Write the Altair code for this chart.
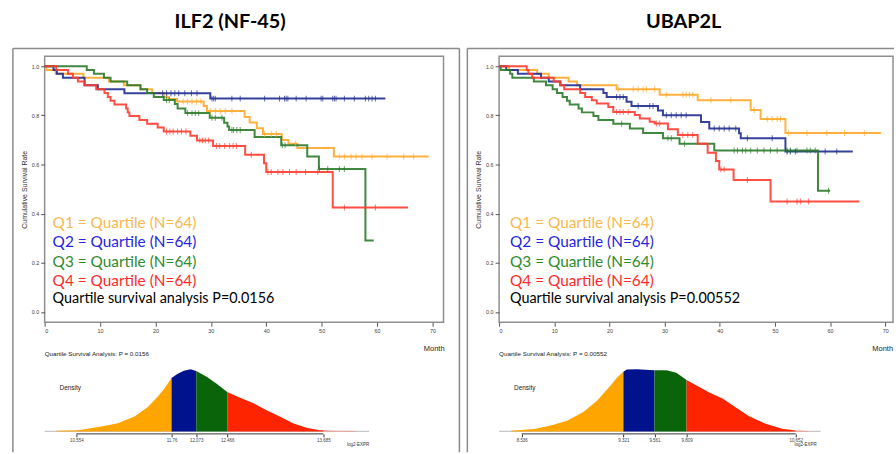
import altair as alt
import pandas as pd

GROUPS = ["Q1", "Q2", "Q3", "Q4"]
LEGEND_LABELS = ["Q1 = Quartile (N=64)", "Q2 = Quartile (N=64)",
                 "Q3 = Quartile (N=64)", "Q4 = Quartile (N=64)"]
SEGS = ["S1", "S2", "S3", "S4", "S5"]
KM_TICKS = [0, 10, 20, 30, 40, 50, 60, 70]
SURV_TICKS = [0.0, 0.2, 0.4, 0.6, 0.8, 1.0]

# ---------------- ILF2 (NF-45) : Kaplan-Meier steps (month, survival) ----------------
ilf2_q1_t = [0, 0.3, 2.0, 7.0, 11.6, 14.3, 17.3, 19.4, 21.5, 22.4, 23.9, 28.7, 29.3, 36.1, 37.0, 38.3, 39.4, 42.8, 44.0, 45.6, 52.2]
ilf2_q1_s = [1.0, 0.984, 0.969, 0.953, 0.938, 0.922, 0.906, 0.891, 0.875, 0.866, 0.856, 0.838, 0.818, 0.793, 0.771, 0.747, 0.724, 0.700, 0.684, 0.667, 0.632]
ilf2_q1_end = 69.3
ilf2_q1_cens = [22.1, 25.0, 25.8, 26.6, 27.4, 28.2, 29.9, 30.8, 31.7, 32.6, 33.8, 39.7, 40.9, 41.8, 45.3, 53.2, 54.1, 55.3, 56.2, 57.3, 59.1, 61.8, 64.8, 66.6]

ilf2_q2_t = [0, 1.6, 2.2, 3.3, 7.2, 9.6, 14.4, 29.9]
ilf2_q2_s = [1.0, 0.984, 0.969, 0.953, 0.922, 0.906, 0.890, 0.868]
ilf2_q2_end = 61.5
ilf2_q2_cens = [21.3, 22.0, 22.8, 23.5, 24.2, 25.3, 26.5, 27.5, 30.2, 30.5, 30.8, 33.8, 35.3, 39.7, 42.4, 43.3, 43.6, 43.9, 45.4, 47.2, 49.9, 50.2, 52.0, 52.3, 52.6, 54.1, 55.9, 57.9, 58.5, 59.1, 59.7]

ilf2_q3_t = [0, 7.6, 8.9, 10.7, 11.9, 14.9, 17.3, 18.5, 19.7, 21.5, 23.5, 24.0, 25.4, 29.8, 32.4, 33.0, 33.3, 37.9, 42.7, 47.4, 49.5, 57.9]
ilf2_q3_s = [1.0, 0.984, 0.969, 0.953, 0.938, 0.922, 0.906, 0.891, 0.875, 0.862, 0.846, 0.828, 0.809, 0.790, 0.770, 0.755, 0.740, 0.712, 0.678, 0.632, 0.582, 0.291]
ilf2_q3_end = 59.4
ilf2_q3_cens = [22.0, 22.5, 25.8, 26.6, 27.2, 27.8, 30.2, 30.8, 32.0, 33.8, 34.1, 34.7, 35.3, 42.9, 43.4, 49.6, 51.1, 53.2, 54.1]

ilf2_q4_t = [0, 2.1, 4.2, 5.1, 6.0, 7.2, 9.3, 10.8, 11.4, 11.9, 12.6, 14.7, 15.0, 15.3, 17.1, 18.5, 20.4, 21.5, 26.3, 27.5, 30.4, 36.2, 39.6, 40.0, 52.0]
ilf2_q4_s = [1.0, 0.984, 0.969, 0.953, 0.938, 0.922, 0.906, 0.891, 0.875, 0.859, 0.844, 0.828, 0.812, 0.797, 0.781, 0.766, 0.750, 0.734, 0.717, 0.698, 0.675, 0.640, 0.605, 0.569, 0.425]
ilf2_q4_end = 65.6
ilf2_q4_cens = [22.0, 22.6, 23.2, 24.0, 24.7, 25.5, 28.0, 28.5, 29.0, 29.6, 31.0, 31.6, 32.5, 33.4, 34.0, 34.6, 37.3, 40.3, 40.9, 42.1, 43.0, 44.2, 45.4, 47.1, 49.3, 54.1, 59.7]

# ILF2 density of log2 expression
ilf2_dens_x = [10.30, 10.575, 10.87, 11.08, 11.29, 11.46, 11.58, 11.665, 11.76, 11.833, 11.916, 12.0, 12.073, 12.21, 12.336, 12.466, 12.63, 12.80, 12.965, 13.133, 13.30, 13.47, 13.636, 13.685, 13.80, 14.097]
ilf2_dens_y = [0.01, 0.02, 0.08, 0.13, 0.24, 0.39, 0.55, 0.68, 0.853, 0.92, 0.97, 0.995, 0.968, 0.87, 0.76, 0.632, 0.54, 0.45, 0.34, 0.24, 0.13, 0.06, 0.02, 0.018, 0.01, 0.005]
ilf2_dens_ticks = [10.554, 11.76, 12.073, 12.466, 13.685]
ilf2_dens_domain = [10.151, 14.265]

# ---------------- UBAP2L ----------------
ubap_q1_t = [0, 1.8, 6.9, 9.0, 12.6, 14.1, 21.3, 29.1, 36.0, 45.6, 47.4, 51.9]
ubap_q1_s = [1.0, 0.984, 0.969, 0.953, 0.938, 0.922, 0.906, 0.884, 0.861, 0.822, 0.785, 0.728]
ubap_q1_end = 69.2
ubap_q1_cens = [21.6, 24.3, 25.2, 26.1, 26.7, 28.2, 30.3, 33.3, 33.9, 34.5, 35.1, 38.4, 42.0, 46.2, 48.6, 49.5, 50.4, 51.0, 52.5, 55.8, 59.4, 62.6, 66.2]

ubap_q2_t = [0, 1.3, 3.4, 7.6, 9.0, 11.1, 14.7, 18.9, 19.5, 23.1, 24.0, 28.8, 29.7, 36.6, 38.1, 43.5, 43.8, 51.9]
ubap_q2_s = [1.0, 0.984, 0.969, 0.953, 0.938, 0.922, 0.906, 0.891, 0.875, 0.855, 0.838, 0.820, 0.800, 0.773, 0.746, 0.727, 0.707, 0.653]
ubap_q2_end = 64.1
ubap_q2_cens = [21.3, 21.9, 22.5, 25.2, 27.3, 27.9, 30.3, 31.2, 32.1, 33.0, 33.9, 39.0, 39.9, 40.8, 41.7, 42.9, 45.0, 49.5, 52.2, 52.8, 53.7, 59.1, 61.2]

ubap_q3_t = [0, 0.3, 2.0, 2.4, 6.3, 8.5, 9.7, 10.5, 11.5, 12.3, 12.8, 14.4, 15.0, 17.1, 18.0, 20.7, 23.7, 26.1, 29.7, 32.7, 39.0, 57.8]
ubap_q3_s = [1.0, 0.984, 0.969, 0.953, 0.938, 0.922, 0.906, 0.891, 0.875, 0.859, 0.844, 0.828, 0.812, 0.797, 0.781, 0.766, 0.746, 0.728, 0.707, 0.684, 0.657, 0.493]
ubap_q3_end = 60.0
ubap_q3_cens = [22.2, 30.6, 31.2, 33.6, 42.6, 43.2, 44.1, 44.7, 45.6, 46.8, 48.0, 49.2, 50.4, 52.2, 52.8, 54.0, 55.8, 56.4, 57.3, 59.7]

ubap_q4_t = [0, 5.0, 5.3, 6.0, 9.9, 11.1, 11.8, 14.7, 15.6, 16.8, 17.7, 19.8, 20.7, 24.6, 25.5, 27.3, 28.2, 30.6, 32.4, 36.0, 37.8, 39.3, 39.9, 42.5, 49.2]
ubap_q4_s = [1.0, 0.984, 0.969, 0.953, 0.938, 0.922, 0.906, 0.891, 0.875, 0.861, 0.848, 0.834, 0.814, 0.801, 0.787, 0.774, 0.767, 0.743, 0.720, 0.684, 0.648, 0.614, 0.580, 0.537, 0.449]
ubap_q4_end = 65.3
ubap_q4_cens = [21.3, 21.9, 22.5, 23.4, 28.5, 29.1, 33.3, 34.2, 35.1, 40.2, 40.8, 45.0, 52.2, 54.0, 54.6, 56.1]

ubap_dens_x = [8.453, 8.631, 8.759, 8.887, 9.014, 9.117, 9.219, 9.270, 9.321, 9.347, 9.424, 9.526, 9.561, 9.654, 9.730, 9.809, 9.883, 9.985, 10.087, 10.190, 10.292, 10.420, 10.547, 10.652, 10.752]
ubap_dens_y = [0.01, 0.04, 0.095, 0.17, 0.316, 0.49, 0.726, 0.858, 0.953, 0.99, 0.995, 0.984, 0.979, 0.979, 0.937, 0.821, 0.737, 0.621, 0.526, 0.384, 0.242, 0.121, 0.042, 0.016, 0.005]
ubap_dens_ticks = [8.536, 9.321, 9.561, 9.809, 10.652]
ubap_dens_domain = [8.361, 10.844]

# ---------------- styles ----------------
LINE_COLORS = ["#FFA82A", "#1F2C8F", "#2B7A2B", "#FF3B2F"]
TEXT_COLORS = ["#F9B850", "#2525E0", "#2E8B2E", "#FF2A2A"]
DENS_COLORS = ["#FFA500", "#00128C", "#0A640A", "#FF2400", "#FF8A80"]
BOX = "#8a8a8a"
FONT = "Liberation Sans"
BIG = "Lato"
H = 268
ONE = pd.DataFrame({"a": [0]})


def km_tables(series):
    lines, cens = [], []
    for g, (t, s, end, c) in zip(GROUPS, series):
        lines.append(pd.DataFrame({"t": [float(v) for v in t] + [float(end)], "s": s + [s[-1]], "g": g}))
        steps = pd.DataFrame({"t": [float(v) for v in t], "s": s})
        cdf = pd.DataFrame({"t": [float(v) for v in sorted(c)]})
        cdf = pd.merge_asof(cdf, steps, on="t")
        cdf["g"] = g
        cens.append(cdf)
    return pd.concat(lines, ignore_index=True), pd.concat(cens, ignore_index=True)


def dens_table(xs, ys, ticks):
    edges = [float("-inf")] + list(ticks[1:]) + [float("inf")]
    rows = []
    for i, name in enumerate(SEGS):
        for x, y in zip(xs, ys):
            if edges[i] <= x <= edges[i + 1]:
                rows.append({"x": x, "d": y, "seg": name})
    return pd.DataFrame(rows)


def text(txt, x, y, size, color, font=FONT, weight="normal", align="left"):
    return alt.Chart(ONE).mark_text(
        text=txt, fontSize=size, fill=color, font=font, fontWeight=weight,
        align=align, baseline="middle").encode(x=alt.value(x), y=alt.value(y))


def vrule(x, y1, y2):
    return alt.Chart(ONE).mark_rule(color=BOX, strokeWidth=1.5).encode(
        x=alt.value(x), y=alt.value(y1), y2=alt.value(y2))


def hrule(x1, x2, y):
    return alt.Chart(ONE).mark_rule(color=BOX, strokeWidth=1.5).encode(
        x=alt.value(x1), x2=alt.value(x2), y=alt.value(y))


def panel(title, title_x, series, dens_x, dens_y, ticks, dom, drange, pval, width, xmax,
          legend_x, box_right, month_x, expr_x, right_edge):
    line_df, cens_df = km_tables(series)
    km_x = alt.X("t:Q", scale=alt.Scale(domain=[0, xmax], nice=False, zero=False),
                 axis=alt.Axis(values=KM_TICKS, title=None, grid=False, domain=False, tickSize=4,
                               tickColor="#555", labelFontSize=5.5, labelColor="#444",
                               labelFont=FONT, labelPadding=2))
    km_y = alt.Y("s:Q", scale=alt.Scale(domain=[-0.042, 1.04], nice=False, zero=False),
                 axis=alt.Axis(values=SURV_TICKS, format=".1f", title="Cumulative Survival Rate",
                               titleFontSize=7, titleFont=FONT, titleFontWeight="normal",
                               titleColor="#333", titlePadding=4, grid=False, domain=False,
                               tickSize=4, tickColor="#555", labelFontSize=5.5,
                               labelColor="#444", labelFont=FONT))
    color = alt.Color("g:N", scale=alt.Scale(domain=GROUPS, range=LINE_COLORS), legend=None)
    lines = alt.Chart(line_df).mark_line(interpolate="step-after", strokeWidth=2, opacity=0.9).encode(
        x=km_x, y=km_y, color=color)
    cticks = alt.Chart(cens_df).mark_tick(orient="vertical", size=6, thickness=1).encode(
        x=km_x, y=km_y, color=color)

    deco = [text(title, title_x, -35, 20, "#000", font=BIG, weight="bold", align="center")]
    ys = [168, 187, 207, 226]
    for lab, col, yy in zip(LEGEND_LABELS, TEXT_COLORS, ys):
        deco.append(text(lab, legend_x, yy, 15.5, col, font=BIG))
    deco.append(text("Quartile survival analysis P=" + pval, legend_x, 245, 14.5, "#000", font=BIG))
    deco.append(text("Month", month_x, 295, 7.5, "#222", align="right"))
    deco.append(text("Quartile Survival Analysis: P = " + pval, 0, 300, 6.3, "#222"))
    deco.append(text("Density", 15, 334, 6.5, "#222"))
    deco.append(text("log2-EXPR", expr_x, 392, 4.5, "#333", align="right"))
    deco.append(vrule(-32, -8, 399))
    deco.append(hrule(-32, box_right, -8))
    if right_edge:
        deco.append(vrule(box_right, -8, 399))
    km_layer = alt.layer(lines, cticks, *deco)

    ddf = dens_table(dens_x, dens_y, ticks)
    dx = alt.X("x:Q", scale=alt.Scale(domain=dom, range=[0, drange], nice=False, zero=False),
               axis=alt.Axis(orient="bottom", offset=112.5, values=ticks, format=".3~f", title=None,
                             grid=False, domain=False, tickSize=3, tickColor="#333",
                             labelFontSize=4.5, labelColor="#444", labelPadding=1,
                             labelFont=FONT, labelOverlap=False))
    dy = alt.Y("d:Q", scale=alt.Scale(domain=[0, 1], range=[378, 315], nice=False, zero=False),
               axis=None, stack=None)
    base = alt.Chart(pd.DataFrame({"x": [dom[0]], "x2": [dom[1]]})).mark_rule(
        color="#C8C8C8", strokeWidth=1.2).encode(x=dx, x2="x2:Q", y=alt.value(378))
    area = alt.Chart(ddf).mark_area().encode(
        x=dx, y=dy,
        color=alt.Color("seg:N", scale=alt.Scale(domain=SEGS, range=DENS_COLORS), legend=None))
    frame = alt.Chart(pd.DataFrame({"x": [ticks[0]], "x2": [ticks[-1]]})).mark_rule(
        color="#333", strokeWidth=1).encode(x=dx, x2="x2:Q", y=alt.value(380.5))
    dens_layer = alt.layer(base, area, frame)

    return alt.layer(km_layer, dens_layer).resolve_scale(
        x="independent", y="independent", color="independent").properties(width=width, height=H)


left_series = [
    (ilf2_q1_t, ilf2_q1_s, ilf2_q1_end, ilf2_q1_cens),
    (ilf2_q2_t, ilf2_q2_s, ilf2_q2_end, ilf2_q2_cens),
    (ilf2_q3_t, ilf2_q3_s, ilf2_q3_end, ilf2_q3_cens),
    (ilf2_q4_t, ilf2_q4_s, ilf2_q4_end, ilf2_q4_cens),
]
right_series = [
    (ubap_q1_t, ubap_q1_s, ubap_q1_end, ubap_q1_cens),
    (ubap_q2_t, ubap_q2_s, ubap_q2_end, ubap_q2_cens),
    (ubap_q3_t, ubap_q3_s, ubap_q3_end, ubap_q3_cens),
    (ubap_q4_t, ubap_q4_s, ubap_q4_end, ubap_q4_cens),
]

left = panel("ILF2 (NF-45)", 187, left_series, ilf2_dens_x, ilf2_dens_y, ilf2_dens_ticks,
             ilf2_dens_domain, 327, "0.0156", 402, 72, 8, 418, 403, 327, True)

right = panel("UBAP2L", 186, right_series, ubap_dens_x, ubap_dens_y, ubap_dens_ticks,
              ubap_dens_domain, 324, "0.00552", 397, 71.4, 11, 398, 397, 320, False)

chart = alt.hconcat(left, right, spacing=4).properties(
    padding={"left": 11, "top": 9, "right": 0, "bottom": 0},
    background="white",
).configure_view(stroke="#8f8f8f", strokeWidth=1.5)

chart.save("out.html", embed_options={"renderer": "svg", "actions": False})
